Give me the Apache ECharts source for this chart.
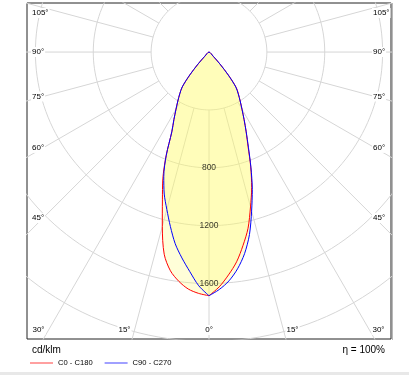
<!DOCTYPE html>
<html><head><meta charset="utf-8">
<script src="https://cdn.jsdelivr.net/npm/echarts@6/dist/echarts.min.js"></script>
<style>html,body{margin:0;padding:0;background:#fff}#c{width:409px;height:375px}</style>
</head><body><div id="c"></div>
<script>
// gamma angles (degrees from nadir) of the intensity readings
const gammaAngles = [0,2.5,5,7.5,10,12.5,15,17.5,20,22.5,25,27.5,30,32.5,35,37.5,40,42.5,45,47.5,50];
// luminous intensity, cd/klm
const c0   = [1684,1624,1546,1462,1356,1247,1108,981,843,705,608,525,456,401,355,310,212,111,41,0,0];
const c180 = [1684,1669,1644,1598,1535,1431,1247,1071,933,774,608,525,456,401,352,304,207,111,41,0,0];
const c90  = [1684,1642,1587,1511,1415,1292,1138,995,847,712,608,525,456,401,352,304,207,111,41,0,0];
const c270 = [1684,1617,1523,1435,1345,1234,1126,1029,914,771,608,525,456,401,352,304,207,111,41,0,0];
const seriesNames = ['C0 - C180', 'C90 - C270'];
const ringValues = [400, 800, 1200, 1600, 2000, 2400];
const ringLabelValues = [800, 1200, 1600];
const sideAngleTicks = [105, 90, 75, 60, 45];
const bottomAngleTicks = [-30, -15, 0, 15, 30];
const unitText = 'cd/klm';
const efficiencyText = 'η = 100%';

const FONT = '"Liberation Sans", Arial, sans-serif';
const rad = d => d * Math.PI / 180;
function polarPt(I, g, side) { return [side * I * Math.sin(rad(g)), -I * Math.cos(rad(g))]; }
function curve(right, left) {
  const p = [];
  for (let i = 0; i < gammaAngles.length; i++) p.push(polarPt(right[i], gammaAngles[i], 1));
  for (let i = gammaAngles.length - 1; i >= 0; i--) p.push(polarPt(left[i], gammaAngles[i], -1));
  return p;
}
const redPts = curve(c0, c180);
const bluePts = curve(c90, c270);

// polar grid
const gridLines = [];
ringValues.forEach(r => {
  const c = [];
  for (let a = 0; a <= 360; a += 2) c.push(polarPt(r, a, 1));
  gridLines.push({ coords: c });
});
for (let a = 0; a < 360; a += 15) {
  gridLines.push({ coords: [polarPt(ringValues[0], a, 1), polarPt(2800, a, 1)] });
}

const SMOOTH = 0.3;
const chart = echarts.init(document.getElementById('c'));
chart.setOption({
  animation: false,
  grid: { left: 27, right: 18, top: 3, bottom: 36, show: true, borderColor: '#222', borderWidth: 1 },
  xAxis: { type: 'value', min: -1258, max: 1258, show: false },
  yAxis: { type: 'value', min: -1983, max: 339, show: false },
  legend: {
    left: 25, top: 354, icon: 'rect', itemWidth: 23, itemHeight: 2, itemGap: 12,
    selectedMode: false,
    textStyle: { fontSize: 7.6, fontFamily: FONT, color: '#000' },
    data: [
      { name: seriesNames[0], itemStyle: { color: '#ffa0a0' } },
      { name: seriesNames[1], itemStyle: { color: '#a0a0ff' } }
    ]
  },
  series: [
    {
      type: 'lines', coordinateSystem: 'cartesian2d', polyline: true, silent: true, clip: true,
      lineStyle: { color: '#d6d6d6', width: 1, opacity: 1 }, data: gridLines
    },
    {
      type: 'custom', silent: true, data: [[0, 0], [1, 0]],
      renderItem: (params, api) => {
        const pts = (params.dataIndex === 0 ? redPts : bluePts).map(p => api.coord(p));
        return { type: 'polygon', shape: { points: pts, smooth: SMOOTH },
                 style: { fill: 'rgba(255,250,100,0.25)', stroke: 'none' } };
      }
    },
    {
      name: seriesNames[0], type: 'line', data: redPts, showSymbol: false, silent: true, smooth: SMOOTH,
      lineStyle: { color: '#ff0000', width: 1 }, itemStyle: { color: '#ff0000' }
    },
    {
      name: seriesNames[1], type: 'line', data: bluePts, showSymbol: false, silent: true, smooth: SMOOTH,
      lineStyle: { color: '#0000ff', width: 1 }, itemStyle: { color: '#0000ff' }
    },
    {
      type: 'scatter', silent: true, symbolSize: 0,
      data: ringLabelValues.map(v => [0, -v]),
      label: { show: true, position: 'inside', formatter: p => String(-p.value[1]),
               fontSize: 8.5, fontFamily: FONT, color: '#000' }
    }
  ]
});

// angle labels along the frame
const ctr = chart.convertToPixel({ gridIndex: 0 }, [0, 0]);
const tl = chart.convertToPixel({ gridIndex: 0 }, [-1258, 339]);
const br = chart.convertToPixel({ gridIndex: 0 }, [1258, -1983]);
const g = [];
const lbl = (text, x, y, align) => ({
  type: 'text', x, y, z: 100,
  style: { text, fontSize: 8, fontFamily: FONT, fill: '#000', align, verticalAlign: 'middle',
           backgroundColor: '#fff', padding: [1, 1] }
});
const inset = ctr[0] - (tl[0] + 16);
sideAngleTicks.forEach(a => {
  const y = Math.max(tl[1] + 10, ctr[1] + inset / Math.tan(rad(a)));
  g.push(lbl(a + '°', tl[0] + 4, y, 'left'));
  g.push(lbl(a + '°', br[0] - 19, y, 'left'));
});
const by = br[1] - 9;
bottomAngleTicks.forEach(a => {
  const dx = (by - ctr[1]) * Math.tan(rad(Math.abs(a)));
  if (a < 0) g.push(lbl(Math.abs(a) + '°', ctr[0] - dx - 3, by, 'right'));
  else if (a > 0) g.push(lbl(a + '°', ctr[0] + dx + 2, by, 'left'));
  else g.push(lbl('0°', ctr[0], by, 'center'));
});
g.push({ type: 'text', x: tl[0] + 5, y: br[1] + 11,
  style: { text: unitText, fontSize: 10, fontFamily: FONT, fill: '#000', verticalAlign: 'middle' } });
g.push({ type: 'text', x: br[0] - 6, y: br[1] + 11,
  style: { text: efficiencyText, fontSize: 10, fontFamily: FONT, fill: '#000', align: 'right', verticalAlign: 'middle' } });
g.push({ type: 'rect', shape: { x: 0, y: 372, width: 409, height: 3 }, style: { fill: '#e8e8e8' } });
g.push({ type: 'line', shape: { x1: br[0] + 1.5, y1: tl[1], x2: br[0] + 1.5, y2: br[1] + 1 }, style: { stroke: '#b8b8b8', lineWidth: 1 } });
chart.setOption({ graphic: g });
</script></body></html>
